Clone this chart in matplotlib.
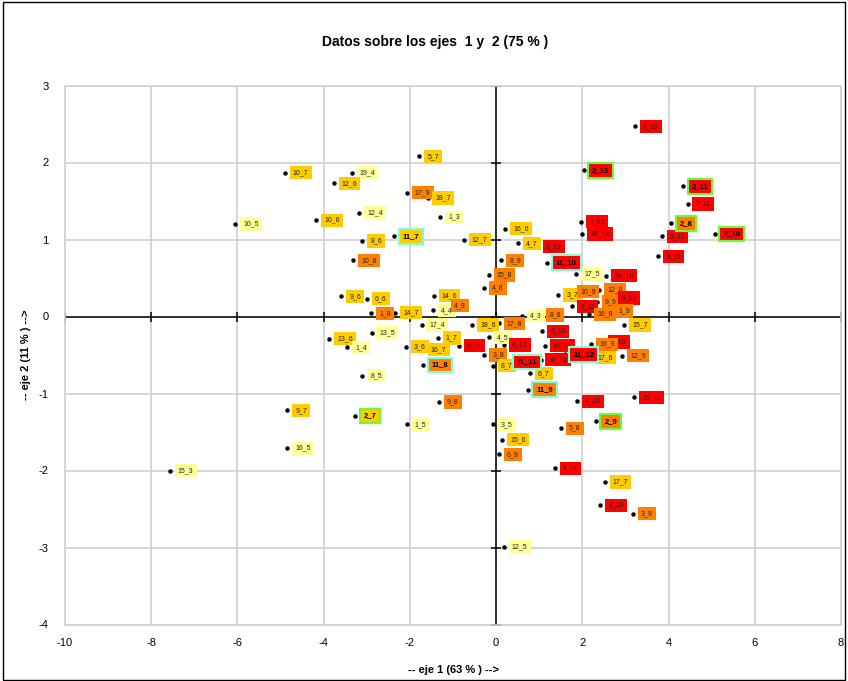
import matplotlib
matplotlib.use("Agg")
import matplotlib.pyplot as plt
from matplotlib.patches import Rectangle

plt.rcParams['font.family'] = ['Liberation Sans', 'DejaVu Sans']
plt.rcParams['axes.unicode_minus'] = False

# ---- data ----
labels = ["10_7", "19_4", "12_6", "12_4", "10_5", "10_6", "8_6", "10_8", "9_6", "6_6",
          "1_8", "5_7", "17_9", "18_7", "1_3", "11_7", "12_7", "14_6", "4_4", "4_9",
          "14_7", "16_6", "4_7", "3_10", "11_10", "8_9", "15_8", "4_8", "17_5", "3_7",
          "10_9", "1_11", "4_3", "8_8", "17_8", "18_6", "4_5", "6_10", "6_12", "10_11",
          "3_8", "11_12", "10_10", "11_11", "8_7", "6_7", "11_9", "4_10", "5_8", "3_5",
          "15_6", "6_9", "4_11", "17_7", "1_10", "3_9", "12_5", "2_9", "15_11", "7_10",
          "2_13", "2_11", "7_11", "2_8", "9_10", "8_11", "2_10", "7_12", "16_12", "16_10",
          "12_8", "9_9", "4_12", "1_9", "16_8", "15_7", "5_10", "16_9", "17_6", "12_9",
          "13_5", "13_6", "1_4", "8_5", "9_7", "2_7", "16_5", "1_5", "9_8", "15_3",
          "17_4", "1_7", "3_6", "16_7", "11_8", "6_11"]
x_vals = [-4.90, -3.35, -3.77, -3.17, -6.05, -4.17, -3.10, -3.31, -3.59, -3.00,
          -2.90, -1.78, -2.07, -1.59, -1.29, -2.36, -0.75, -1.45, -1.47, -1.17,
          -2.34, 0.21, 0.51, 0.97, 1.19, 0.12, -0.17, -0.28, 1.86, 1.44,
          1.76, 1.76, 0.60, 1.05, 0.06, -0.56, -0.17, 1.07, 0.18, 1.13,
          -0.27, 1.59, 1.03, 0.27, -0.07, 0.78, 0.73, 1.88, 1.50, -0.07,
          0.14, 0.06, 1.36, 2.52, 2.41, 3.17, 0.18, 2.31, 3.20, 3.22,
          2.03, 4.33, 4.44, 4.06, 3.84, 3.76, 5.07, 1.98, 2.00, 2.56,
          2.39, 2.34, 2.72, 2.64, 2.16, 2.97, 2.48, 2.20, 2.17, 2.93,
          -2.89, -3.87, -3.45, -3.10, -4.84, -3.27, -4.84, -2.07, -1.33, -7.57,
          -1.73, -1.35, -2.10, -1.70, -1.69, -0.87]
y_vals = [1.87, 1.87, 1.73, 1.35, 1.20, 1.25, 0.98, 0.73, 0.26, 0.23,
          0.04, 2.08, 1.61, 1.54, 1.29, 1.04, 1.00, 0.27, 0.08, 0.14,
          0.05, 1.14, 0.95, 0.91, 0.70, 0.73, 0.54, 0.37, 0.55, 0.28,
          0.32, 0.13, 0.01, 0.02, -0.09, -0.11, -0.27, -0.19, -0.37, -0.38,
          -0.50, -0.49, -0.56, -0.59, -0.64, -0.74, -0.95, -1.10, -1.45, -1.40,
          -1.60, -1.79, -1.97, -2.15, -2.45, -2.56, -2.99, -1.36, -1.05, 2.47,
          1.90, 1.69, 1.46, 1.21, 1.04, 0.78, 1.07, 1.23, 1.07, 0.53,
          0.35, 0.19, 0.24, 0.07, 0.03, -0.11, -0.33, -0.36, -0.53, -0.51,
          -0.21, -0.29, -0.40, -0.77, -1.22, -1.29, -1.71, -1.40, -1.11, -2.00,
          -0.11, -0.28, -0.39, -0.43, -0.63, -0.38]
# colour class of each label: ly = light yellow, go = gold, or = orange, re = red
classes = ["go", "ly", "go", "ly", "ly", "go", "go", "or", "go", "go",
           "or", "go", "or", "go", "ly", "go", "go", "go", "ly", "or",
           "go", "go", "go", "re", "re", "or", "or", "or", "ly", "go",
           "or", "re", "ly", "or", "or", "go", "ly", "re", "re", "re",
           "or", "re", "re", "re", "go", "go", "or", "re", "or", "ly",
           "go", "or", "re", "go", "re", "or", "ly", "or", "re", "re",
           "re", "re", "re", "or", "re", "re", "re", "re", "re", "re",
           "or", "or", "re", "or", "or", "go", "re", "or", "go", "or",
           "ly", "go", "ly", "ly", "go", "go", "ly", "ly", "or", "ly",
           "ly", "go", "go", "go", "or", "re"]

x_ticks = [-10, -8, -6, -4, -2, 0, 2, 4, 6, 8]
y_ticks = [-4, -3, -2, -1, 0, 1, 2, 3]
title = "Datos sobre los ejes  1 y  2 (75 % )"
x_title = "-- eje 1 (63 % ) -->"
y_title = "-- eje 2 (11 % ) -->"

fill = {"ly": "#FFFF99", "go": "#FFCC00", "or": "#FF8000", "re": "#FF0000"}
highlight = {"2": "#66FF33", "11": "#7FFFD4"}

fig = plt.figure(figsize=(8.48, 6.81), dpi=100)
ax = fig.add_axes([65 / 848, (681 - 624.5) / 681, 776 / 848, 539 / 681])

ax.set_xlim(x_ticks[0], x_ticks[-1])
ax.set_ylim(y_ticks[0], y_ticks[-1])
ax.set_xticks(x_ticks)
ax.set_yticks(y_ticks)
ax.grid(True, color="#D0D0D0", linewidth=1.2)
ax.set_axisbelow(True)
for s in ax.spines.values():
    s.set_color("#D0D0D0")
    s.set_linewidth(1.2)
ax.tick_params(axis="x", length=0, labelsize=8, pad=10)
ax.tick_params(axis="y", length=0, labelsize=8, pad=12)

# axes through origin with crossing tick marks
ax.axhline(0, color="black", lw=1.1, zorder=2)
ax.axvline(0, color="black", lw=1.1, zorder=2)
ax.plot(x_ticks, [0] * len(x_ticks), ls="none", marker="|", ms=7, mew=1.1,
        color="black", zorder=2)
ax.plot([0] * len(y_ticks), y_ticks, ls="none", marker="_", ms=7, mew=1.1,
        color="black", zorder=2)

ax.plot(x_vals, y_vals, ls="none", marker="o", ms=2.2, color="black", zorder=3)

for lab, xv, yv, c in zip(labels, x_vals, y_vals, classes):
    grp = lab.split("_")[0]
    if grp in highlight:
        ax.annotate(lab, (xv, yv), xytext=(6.2, 0), textcoords="offset points",
                    ha="left", va="center", fontsize=5.5, fontweight="bold",
                    color="black", zorder=5,
                    bbox=dict(boxstyle="square,pad=0.5", fc=fill[c],
                              ec=highlight[grp], lw=1.5))
    else:
        ax.annotate(lab, (xv, yv), xytext=(5.8, 0), textcoords="offset points",
                    ha="left", va="center", fontsize=5, color="#222222",
                    zorder=4,
                    bbox=dict(boxstyle="square,pad=0.45", fc=fill[c], ec="none"))

ax.set_xlabel(x_title, fontsize=8, fontweight="bold", labelpad=12)
ax.set_ylabel(y_title, fontsize=8, fontweight="bold", labelpad=5)
fig.text(435 / 848, 1 - 42 / 681, title, ha="center", va="center",
         fontsize=10, fontweight="bold")

fig.patches.append(Rectangle((0.003, 0.002), 0.994, 0.995, transform=fig.transFigure,
                             fill=False, ec="black", lw=1))

fig.savefig("out.png", dpi=100)
